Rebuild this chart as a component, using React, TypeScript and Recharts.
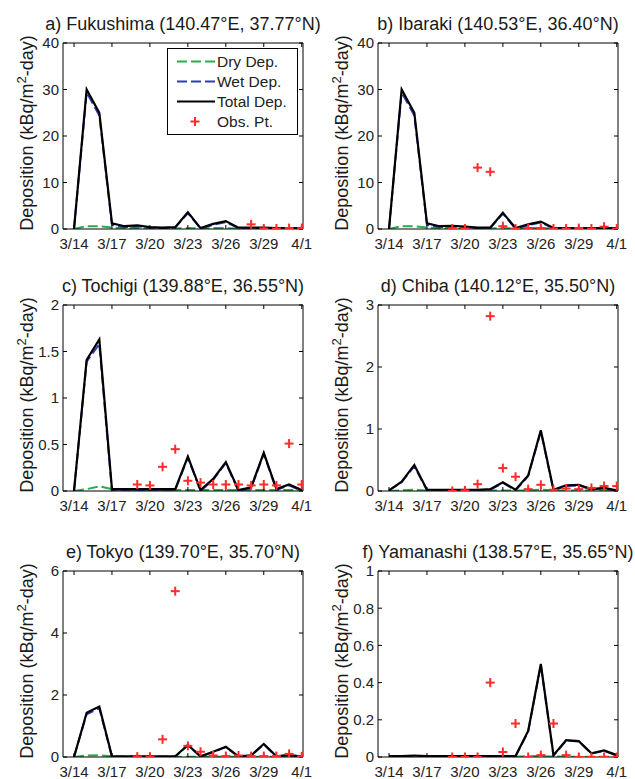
import { ComposedChart, Line, Scatter, XAxis, YAxis, Legend, Label } from 'recharts'

// days of March (4/1 = day 32)
const days = [14, 15, 16, 17, 18, 19, 20, 21, 22, 23, 24, 25, 26, 27, 28, 29, 30, 31, 32]
const tickDays = [14, 17, 20, 23, 26, 29, 32]
const tickLabels = ['3/14', '3/17', '3/20', '3/23', '3/26', '3/29', '4/1']

// a) Fukushima
const fukushimaDry = [0, 0.6, 0.6, 0.3, 0.2, 0.2, 0.1, 0.1, 0.1, 0.2, 0.1, 0.2, 0.2, 0.1, 0.1, 0.1, 0.1, 0.1, 0.1]
const fukushimaWet = [0, 29.4, 24.4, 0.9, 0.4, 0.6, 0.3, 0.2, 0.3, 3.4, 0.1, 0.9, 1.5, 0.2, 0.2, 0.2, 0.1, 0.1, 0.1]
const fukushimaTotal = [0, 30, 25, 1.2, 0.6, 0.8, 0.4, 0.3, 0.4, 3.6, 0.2, 1.1, 1.7, 0.3, 0.3, 0.3, 0.2, 0.2, 0.2]
const fukushimaObs = [null, null, null, null, null, null, null, null, null, null, null, null, null, null, 1.0, 0.1, 0.1, 0.2, 0.2]
const fukushimaYTicks = [0, 10, 20, 30, 40]

// b) Ibaraki
const ibarakiDry = [0, 0.6, 0.6, 0.3, 0.2, 0.2, 0.1, 0.1, 0.1, 0.2, 0.1, 0.2, 0.2, 0.1, 0.1, 0.1, 0.1, 0.1, 0.1]
const ibarakiWet = [0, 29.4, 24.4, 0.9, 0.4, 0.5, 0.4, 0.2, 0.2, 3.3, 0.1, 0.8, 1.4, 0.1, 0.1, 0.1, 0.1, 0.1, 0.1]
const ibarakiTotal = [0, 30, 25, 1.2, 0.6, 0.7, 0.5, 0.3, 0.3, 3.5, 0.2, 1.0, 1.6, 0.2, 0.2, 0.2, 0.2, 0.2, 0.2]
const ibarakiObs = [null, null, null, null, null, 0.1, 0.1, 13.2, 12.3, 0.6, 0.1, 0.2, 0.2, 0.1, 0.1, 0.2, 0.1, 0.5, 0.1]
const ibarakiYTicks = [0, 10, 20, 30, 40]

// c) Tochigi
const tochigiDry = [0, 0.02, 0.05, 0.02, 0.01, 0.01, 0.01, 0.01, 0.01, 0.01, 0.01, 0.01, 0.01, 0.01, 0.01, 0.01, 0.01, 0.01, 0.01]
const tochigiWet = [0, 1.39, 1.58, 0, 0.01, 0.01, 0.01, 0.01, 0.01, 0.36, 0, 0.12, 0.3, 0, 0.03, 0.4, 0.01, 0.06, 0]
const tochigiTotal = [0, 1.41, 1.63, 0.02, 0.02, 0.02, 0.02, 0.02, 0.02, 0.37, 0.01, 0.13, 0.31, 0.01, 0.04, 0.41, 0.02, 0.07, 0.01]
const tochigiObs = [null, null, null, null, null, 0.07, 0.06, 0.26, 0.45, 0.11, 0.09, 0.07, 0.07, 0.07, 0.06, 0.07, 0.06, 0.51, 0.07]
const tochigiYTicks = [0, 0.5, 1, 1.5, 2]

// d) Chiba
const chibaDry = [0, 0.01, 0.02, 0.01, 0.01, 0.01, 0.01, 0.01, 0.01, 0.01, 0.01, 0.01, 0.02, 0.01, 0.01, 0.01, 0.01, 0.01, 0.01]
const chibaWet = [0.01, 0.14, 0.4, 0.01, 0.01, 0.01, 0.01, 0.01, 0.02, 0.13, 0.01, 0.24, 0.96, 0.01, 0.08, 0.09, 0.02, 0.04, 0]
const chibaTotal = [0.01, 0.15, 0.42, 0.02, 0.02, 0.02, 0.02, 0.02, 0.03, 0.14, 0.02, 0.25, 0.98, 0.02, 0.09, 0.1, 0.03, 0.05, 0.01]
const chibaObs = [null, null, null, null, null, 0, 0.01, 0.11, 2.82, 0.37, 0.23, 0.03, 0.1, 0.02, 0.04, 0.03, 0.05, 0.08, 0.08]
const chibaYTicks = [0, 1, 2, 3]

// e) Tokyo
const tokyoDry = [0, 0.05, 0.06, 0.02, 0.01, 0.01, 0.01, 0.01, 0.01, 0.01, 0.01, 0.01, 0.01, 0.01, 0.01, 0.01, 0.01, 0.01, 0.01]
const tokyoWet = [0, 1.38, 1.57, 0, 0.01, 0.01, 0.01, 0.01, 0.01, 0.38, 0.01, 0.16, 0.32, 0.01, 0.04, 0.41, 0.01, 0.06, 0]
const tokyoTotal = [0, 1.43, 1.63, 0.02, 0.02, 0.02, 0.02, 0.02, 0.02, 0.39, 0.02, 0.17, 0.33, 0.02, 0.05, 0.42, 0.02, 0.07, 0.01]
const tokyoObs = [null, null, null, null, null, 0.01, 0.01, 0.57, 5.35, 0.36, 0.17, 0.05, 0.03, 0.05, 0.03, 0.03, 0.03, 0.1, 0.02]
const tokyoYTicks = [0, 2, 4, 6]

// f) Yamanashi
const yamanashiDry = [0.002, 0.002, 0.002, 0.002, 0.002, 0.002, 0.002, 0.002, 0.002, 0.002, 0.002, 0.004, 0.005, 0.003, 0.002, 0.002, 0.002, 0.002, 0.002]
const yamanashiWet = [0.003, 0.003, 0.006, 0.003, 0.003, 0.003, 0.003, 0.003, 0.003, 0.003, 0.003, 0.136, 0.495, 0.007, 0.088, 0.083, 0.018, 0.033, 0.008]
const yamanashiTotal = [0.005, 0.005, 0.008, 0.005, 0.005, 0.005, 0.005, 0.005, 0.005, 0.005, 0.005, 0.14, 0.5, 0.01, 0.09, 0.085, 0.02, 0.035, 0.01]
const yamanashiObs = [null, null, null, null, null, 0, 0, 0, 0.4, 0.027, 0.18, 0, 0.01, 0.18, 0.01, 0, 0, 0, 0]
const yamanashiYTicks = [0, 0.2, 0.4, 0.6, 0.8, 1]

const DRY = '#25ad4c'
const WET = '#2f3fb3'
const OBS = '#ff2b2b'
const FONT = '"Liberation Sans", Arial, sans-serif'

const panels = [
    { title: 'a) Fukushima (140.47°E, 37.77°N)', dry: fukushimaDry, wet: fukushimaWet, total: fukushimaTotal, obs: fukushimaObs, yTicks: fukushimaYTicks, legend: true },
    { title: 'b) Ibaraki (140.53°E, 36.40°N)', dry: ibarakiDry, wet: ibarakiWet, total: ibarakiTotal, obs: ibarakiObs, yTicks: ibarakiYTicks, legend: false },
    { title: 'c) Tochigi (139.88°E, 36.55°N)', dry: tochigiDry, wet: tochigiWet, total: tochigiTotal, obs: tochigiObs, yTicks: tochigiYTicks, legend: false },
    { title: 'd) Chiba (140.12°E, 35.50°N)', dry: chibaDry, wet: chibaWet, total: chibaTotal, obs: chibaObs, yTicks: chibaYTicks, legend: false },
    { title: 'e) Tokyo (139.70°E, 35.70°N)', dry: tokyoDry, wet: tokyoWet, total: tokyoTotal, obs: tokyoObs, yTicks: tokyoYTicks, legend: false },
    { title: 'f) Yamanashi (138.57°E, 35.65°N)', dry: yamanashiDry, wet: yamanashiWet, total: yamanashiTotal, obs: yamanashiObs, yTicks: yamanashiYTicks, legend: false },
]

const panelLefts = [0, 315]
const panelTops = [0, 262, 528]
const xDomain = [13.13, 32.1]

const Plus = (props: any) => {
    const { cx, cy } = props
    if (cx == null || cy == null) return <g />
    return (
        <g stroke={OBS} strokeWidth={2}>
            <line x1={cx - 4.5} x2={cx + 4.5} y1={cy} y2={cy} />
            <line x1={cx} x2={cx} y1={cy - 4.5} y2={cy + 4.5} />
        </g>
    )
}

const NoTick = () => <g />

const LegendBox = () => {
    const rows = [
        { name: 'Dry Dep.', color: DRY, dash: '10 4', kind: 'line' },
        { name: 'Wet Dep.', color: WET, dash: '10 4', kind: 'line' },
        { name: 'Total Dep.', color: '#000', dash: undefined, kind: 'line' },
        { name: 'Obs. Pt.', color: OBS, dash: undefined, kind: 'plus' },
    ]
    return (
        <svg width={131} height={87} style={{ display: 'block', fontFamily: FONT }}>
            <rect x={0.5} y={0.5} width={130} height={86} fill="#fff" stroke="#000" />
            {rows.map((r, i) => {
                const y = 13.5 + i * 20
                return (
                    <g key={r.name}>
                        {r.kind === 'line' ? (
                            <line x1={10} x2={48} y1={y} y2={y} stroke={r.color} strokeWidth={2} strokeDasharray={r.dash} />
                        ) : (
                            <Plus cx={28} cy={y} />
                        )}
                        <text x={50} y={y + 5.5} fontSize={15.5} fill="#222">{r.name}</text>
                    </g>
                )
            })}
        </svg>
    )
}

const YLabel = (props: any) => {
    const vb = props.viewBox
    const x = vb.x + 5
    const y = vb.y + vb.height / 2 - 3
    return (
        <text x={x} y={y} transform={`rotate(-90, ${x}, ${y})`} textAnchor="middle" fontSize={18} fill="#1a1a1a" fontFamily={FONT}>
            Deposition (kBq/m<tspan dy={-7} fontSize={13}>2</tspan><tspan dy={7}>-day)</tspan>
        </text>
    )
}

const Panel = (props: { index: number }) => {
    const p = panels[props.index]
    const rows = days.map((d, i) => ({ day: d, dry: p.dry[i], wet: p.wet[i], total: p.total[i] }))
    const obsRows = days.map((d, i) => ({ day: d, obs: p.obs[i] })).filter(r => r.obs != null)
    const yMax = p.yTicks[p.yTicks.length - 1]
    const left = panelLefts[props.index % 2]
    const top = panelTops[Math.floor(props.index / 2)]

    const Title = (lp: any) => {
        const vb = lp.viewBox
        return (
            <text x={vb.x + vb.width / 2} y={vb.y - 12.5} textAnchor="middle" fontSize={18} fill="#1a1a1a" fontFamily={FONT}>
                {p.title}
            </text>
        )
    }

    return (
        <div style={{ position: 'absolute', left, top }}>
            <ComposedChart width={322} height={262} data={rows} margin={{ top: 42, right: 18, bottom: 0, left: 28 }}>
                <XAxis dataKey="day" type="number" domain={xDomain} allowDataOverflow ticks={tickDays} interval={0}
                    tickFormatter={(v: number) => tickLabels[tickDays.indexOf(v)]}
                    height={33} tickSize={-4} tickMargin={13} stroke="#000"
                    tick={{ fontSize: 15, fill: '#222', fontFamily: FONT }} />
                <XAxis xAxisId="top" orientation="top" dataKey="day" type="number" domain={xDomain} allowDataOverflow
                    ticks={tickDays} interval={0} height={1} tickSize={-4} stroke="#000" tick={<NoTick />}>
                    <Label content={<Title />} />
                </XAxis>
                <YAxis type="number" domain={[0, yMax]} allowDataOverflow ticks={p.yTicks} interval={0}
                    width={35} tickSize={-4} tickMargin={8} stroke="#000"
                    tick={{ fontSize: 15, fill: '#222', fontFamily: FONT }}>
                    <Label content={<YLabel />} />
                </YAxis>
                <YAxis yAxisId="right" orientation="right" type="number" domain={[0, yMax]} allowDataOverflow
                    ticks={p.yTicks} interval={0} width={1} tickSize={-4} stroke="#000" tick={<NoTick />} />
                <Line dataKey="dry" stroke={DRY} strokeWidth={2} strokeDasharray="10 4" dot={false} isAnimationActive={false} />
                <Line dataKey="wet" stroke={WET} strokeWidth={2} strokeDasharray="10 4" dot={false} isAnimationActive={false} />
                <Line dataKey="total" stroke="#000" strokeWidth={2.2} dot={false} isAnimationActive={false} />
                <Scatter data={obsRows} dataKey="obs" shape={<Plus />} isAnimationActive={false} />
                {p.legend && (
                    <Legend layout="vertical" align="center" verticalAlign="middle" content={<LegendBox />}
                        wrapperStyle={{ left: 167, top: 48, width: 131, height: 87 }} />
                )}
            </ComposedChart>
        </div>
    )
}

export default function App() {
    return (
        <div style={{ position: 'absolute', left: 0, top: 0, width: 635, height: 779, overflow: 'hidden', background: '#fff', fontFamily: FONT }}>
            {panels.map((_, i) => <Panel key={i} index={i} />)}
        </div>
    )
}
